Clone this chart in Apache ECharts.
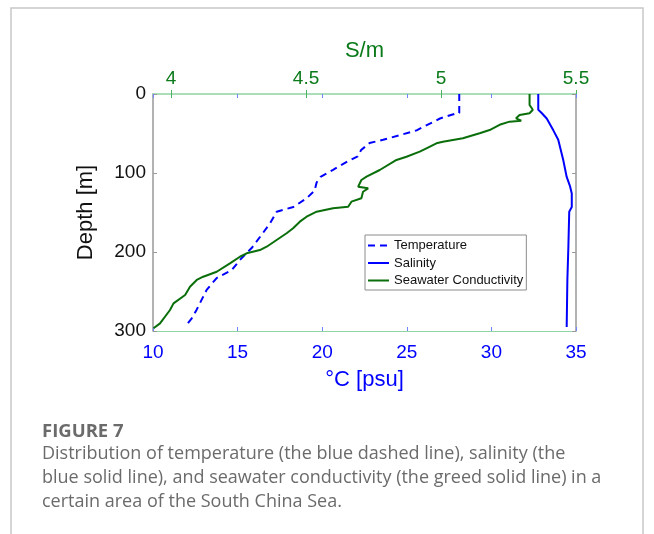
<!DOCTYPE html>
<html><head><meta charset="utf-8">
<script src="https://cdn.jsdelivr.net/npm/echarts@6/dist/echarts.min.js"></script>
<style>html,body{margin:0;padding:0;background:#fff}#c{width:654px;height:534px}</style>
</head><body><div id="c"></div>
<script>
// Temperature (°C) vs depth (m)
const tempDepth = [0, 24, 25, 31, 46, 52, 58, 62, 71, 79, 86, 96, 105, 112, 118, 122, 132, 143, 149, 164, 181, 195, 210, 223, 233, 248, 273, 284, 295];
const tempValues = [28.1, 28.1, 27.85, 26.96, 25.58, 24.6, 23.6, 22.8, 22.3, 22.1, 21.45, 20.64, 19.9, 19.67, 19.6, 19.57, 19.08, 18.3, 17.31, 16.91, 16.32, 15.83, 15.14, 14.65, 13.76, 13.17, 12.58, 12.29, 11.89];
// Salinity (psu) vs depth (m)
const salDepth = [0, 20, 24, 31, 46, 58, 84, 105, 117, 126, 143, 149, 193, 235, 295];
const salValues = [32.77, 32.77, 32.97, 33.27, 33.66, 33.95, 34.25, 34.45, 34.65, 34.75, 34.75, 34.6, 34.55, 34.49, 34.45];
// Seawater conductivity (S/m) vs depth (m)
const condDepth = [0, 14, 20, 24.4, 26.6, 30.8, 33.8, 35, 39, 45.6, 49.7, 56, 60.4, 62.4, 68.7, 73, 79.4, 83.5, 96.2, 104.7, 108.9, 117.3, 119.4, 123.7, 132, 136.3, 142.7, 144.7, 149, 155.3, 161.6, 170, 176.3, 184.8, 193.3, 197.5, 201.6, 206, 214.3, 225, 231.3, 235.4, 244, 254.4, 265, 273.4, 290.3, 296.6];
const condValues = [5.328, 5.328, 5.340, 5.328, 5.291, 5.278, 5.297, 5.254, 5.217, 5.180, 5.143, 5.081, 5.007, 4.983, 4.946, 4.921, 4.872, 4.835, 4.773, 4.724, 4.705, 4.693, 4.730, 4.711, 4.705, 4.668, 4.656, 4.600, 4.539, 4.502, 4.477, 4.452, 4.428, 4.391, 4.354, 4.329, 4.280, 4.255, 4.218, 4.169, 4.119, 4.095, 4.070, 4.052, 4.009, 3.996, 3.959, 3.935];
// Tick labels
const bottomTicks = [10, 15, 20, 25, 30, 35];
const topTicks = [4, 4.5, 5, 5.5];
const depthTicks = [0, 100, 200, 300];
const seriesNames = ['Temperature', 'Salinity', 'Seawater Conductivity'];
const captionTitle = 'FIGURE 7';
const captionLines = [
  'Distribution of temperature (the blue dashed line), salinity (the',
  'blue solid line), and seawater conductivity (the greed solid line) in a',
  'certain area of the South China Sea.'
];

const BLUE = '#0000ff', GREEN = '#0a6e0a', LBL_GREEN = '#0b7a1a';
const FRAME_GREEN = '#8fd4a2', FRAME_GREY = '#999999';
const FONT = '"Liberation Sans", Arial, sans-serif';
const CAP_FONT = '"Open Sans", sans-serif';
const condMin = 3.933, condMax = 5.5;

const pairs = (d, v) => d.map((y, i) => [v[i], y]);

const chart = echarts.init(document.getElementById('c'), null, {renderer: 'canvas'});
chart.setOption({
  animation: false,
  backgroundColor: '#fff',
  grid: {left: 153, top: 94, width: 423, height: 237, containLabel: false},
  xAxis: [
    { // bottom: °C [psu]
      type: 'value', position: 'bottom', min: 10, max: 35, interval: 5,
      name: '°C [psu]', nameLocation: 'middle', nameGap: 38,
      nameTextStyle: {color: BLUE, fontSize: 22, fontFamily: FONT},
      axisLine: {show: true, onZero: false, lineStyle: {color: FRAME_GREEN, width: 1}},
      axisTick: {show: true, inside: true, length: 4, lineStyle: {color: '#6f86ff'}},
      axisLabel: {color: BLUE, fontSize: 19, fontFamily: FONT, margin: 12,
        customValues: bottomTicks},
      splitLine: {show: false}
    },
    { // top: S/m
      type: 'value', position: 'top', min: condMin, max: condMax,
      name: 'S/m', nameLocation: 'middle', nameGap: 32,
      nameTextStyle: {color: LBL_GREEN, fontSize: 22, fontFamily: FONT},
      axisLine: {show: true, onZero: false, lineStyle: {color: FRAME_GREEN, width: 1.5}},
      axisTick: {show: true, inside: true, length: 4, customValues: topTicks, lineStyle: {color: '#4cb35f'}},
      axisLabel: {color: LBL_GREEN, fontSize: 19, fontFamily: FONT, margin: 6,
        customValues: topTicks, showMaxLabel: true, showMinLabel: true},
      splitLine: {show: false}
    },
    { // mirrored blue ticks on top
      type: 'value', position: 'top', min: 10, max: 35, interval: 5,
      axisLine: {show: false},
      axisTick: {show: true, inside: true, length: 4, lineStyle: {color: '#6f86ff'}},
      axisLabel: {show: false}, splitLine: {show: false}
    },
    { // mirrored green ticks on bottom
      type: 'value', position: 'bottom', min: condMin, max: condMax,
      axisLine: {show: false},
      axisTick: {show: true, inside: true, length: 4, customValues: topTicks, lineStyle: {color: '#4cb35f'}},
      axisLabel: {show: false}, splitLine: {show: false}
    }
  ],
  yAxis: [
    {
      type: 'value', inverse: true, min: 0, max: 300, interval: 100, position: 'left',
      name: 'Depth [m]', nameLocation: 'middle', nameGap: 56, nameRotate: 90,
      nameTextStyle: {color: '#111', fontSize: 22, fontFamily: FONT},
      axisLine: {show: true, onZero: false, lineStyle: {color: FRAME_GREY, width: 1.5}},
      axisTick: {show: true, inside: true, length: 4, lineStyle: {color: FRAME_GREY}},
      axisLabel: {color: '#111', fontSize: 19, fontFamily: FONT, margin: 7,
        customValues: depthTicks},
      splitLine: {show: false}
    },
    {
      type: 'value', inverse: true, min: 0, max: 300, interval: 100, position: 'right',
      axisLine: {show: true, onZero: false, lineStyle: {color: FRAME_GREY, width: 1.5}},
      axisTick: {show: true, inside: true, length: 4, lineStyle: {color: FRAME_GREY}},
      axisLabel: {show: false}, splitLine: {show: false}
    }
  ],
  legend: {
    orient: 'vertical', left: 365, top: 235,
    padding: [4, 3, 3, 2], itemGap: 4.5, itemWidth: 21, itemHeight: 14,
    backgroundColor: '#fff', borderColor: '#8c8c8c', borderWidth: 1,
    itemStyle: {opacity: 0},
    textStyle: {color: '#111', fontSize: 13, fontFamily: FONT},
    data: seriesNames
  },
  series: [
    {
      name: seriesNames[0], type: 'line', xAxisIndex: 0, yAxisIndex: 0,
      data: pairs(tempDepth, tempValues), symbol: 'none', smooth: false,
      lineStyle: {color: BLUE, width: 2, type: [7, 5]}, itemStyle: {color: BLUE}, z: 3
    },
    {
      name: seriesNames[1], type: 'line', xAxisIndex: 0, yAxisIndex: 0,
      data: pairs(salDepth, salValues), symbol: 'none',
      lineStyle: {color: BLUE, width: 2}, itemStyle: {color: BLUE}, z: 3
    },
    {
      name: seriesNames[2], type: 'line', xAxisIndex: 1, yAxisIndex: 0,
      data: pairs(condDepth, condValues), symbol: 'none',
      lineStyle: {color: GREEN, width: 2}, itemStyle: {color: GREEN}, z: 3
    }
  ],
  graphic: [
    {type: 'rect', z: -10, silent: true,
      shape: {x: 11, y: 8, width: 632, height: 540},
      style: {fill: 'none', stroke: '#c8c8c8', lineWidth: 1.5}},
    {type: 'text', x: 42, y: 432,
      style: {text: captionTitle, font: 'bold 18.5px ' + CAP_FONT, fill: '#6b6b6b', verticalAlign: 'middle'}},
    {type: 'text', x: 42, y: 454,
      style: {text: captionLines[0], font: '18px ' + CAP_FONT, fill: '#6b6b6b', verticalAlign: 'middle'}},
    {type: 'text', x: 42, y: 478,
      style: {text: captionLines[1], font: '18px ' + CAP_FONT, fill: '#6b6b6b', verticalAlign: 'middle'}},
    {type: 'text', x: 42, y: 502,
      style: {text: captionLines[2], font: '18px ' + CAP_FONT, fill: '#6b6b6b', verticalAlign: 'middle'}}
  ]
});
</script></body></html>
